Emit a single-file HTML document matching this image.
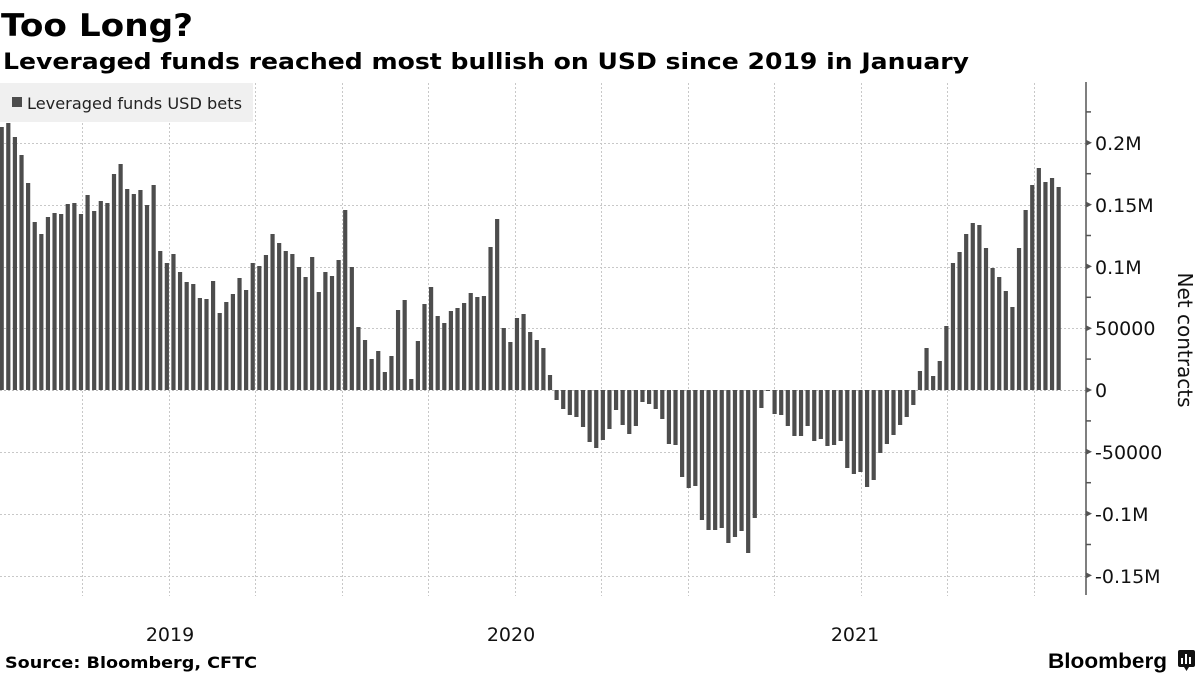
<!DOCTYPE html>
<html><head><meta charset="utf-8"><style>
html,body{margin:0;padding:0;background:#fff;}
svg{display:block;}
</style></head><body>
<svg id="s" width="1200" height="675" viewBox="0 0 1200 675" xmlns="http://www.w3.org/2000/svg" font-family="DejaVu Sans, Liberation Sans, sans-serif">
<rect width="1200" height="675" fill="#fff"/>
<text x="1" y="36" font-size="31" font-weight="bold" textLength="192" lengthAdjust="spacingAndGlyphs" fill="#000">Too Long?</text>
<text x="3" y="69" font-size="22" font-weight="bold" textLength="966" lengthAdjust="spacingAndGlyphs" fill="#000">Leveraged funds reached most bullish on USD since 2019 in January</text>
<g id="grid" stroke="#c8c8c8" stroke-width="1" stroke-dasharray="2,2"></g>
<rect x="0" y="83" width="253" height="39" fill="#f0f0f0"/>
<rect x="12" y="97" width="10" height="10" fill="#4d4d4d"/>
<text x="27" y="109" font-size="16" textLength="215" lengthAdjust="spacingAndGlyphs" fill="#222">Leveraged funds USD bets</text>
<g id="bars" fill="#4d4d4d"></g>
<g id="axis" stroke="#555" stroke-width="1.5"></g>
<g id="labels" font-size="19" fill="#111"></g>
<text transform="translate(1178,340) rotate(90)" font-size="20" text-anchor="middle" fill="#111">Net contracts</text>
<text x="170" y="641" font-size="19" text-anchor="middle" fill="#111">2019</text>
<text x="511" y="641" font-size="19" text-anchor="middle" fill="#111">2020</text>
<text x="855" y="641" font-size="19" text-anchor="middle" fill="#111">2021</text>
<text x="5" y="668" font-size="16" font-weight="bold" textLength="252" lengthAdjust="spacingAndGlyphs" fill="#000">Source: Bloomberg, CFTC</text>
<text x="1048" y="668" font-size="21" font-weight="bold" textLength="119" lengthAdjust="spacingAndGlyphs" fill="#000" font-family="Liberation Sans, sans-serif">Bloomberg</text>
<rect x="1178" y="650" width="17" height="17" rx="2" fill="#111"/>
<polygon points="1184,667 1189,667 1186.5,671" fill="#111"/>
<rect x="1181" y="658" width="2" height="6" fill="#fff"/>
<rect x="1185" y="654" width="2" height="10" fill="#fff"/>
<rect x="1189" y="657" width="2" height="7" fill="#fff"/>
</svg>
<script>
var NS="http://www.w3.org/2000/svg";
function el(p,t,a){var e=document.createElementNS(NS,t);for(var k in a)e.setAttribute(k,a[k]);p.appendChild(e);return e;}
var ys=[127,123,137,155,183,222,234,217,213,214,204,203,214,195,211,201,203,174,164,189,194,190,205,185,251,263,254,272,282,284,298,299,281,313,302,294,278,290,263,266,255,
234,243,251,254,267,277,257,292,272,276,260,210,267,327,340,359,351,372,356,310,300,379,341,304,287,316,323,311,308,303,293,297,296,247,219,328,342,318,314,332,
340,348,375,
400,409,415,417,427,442,448,440,429,410,425,434,426,402,404,409,419,444,445,477,488,486,520,530,530,528,543,537,531,553,518,408,391,414,415,426,436,
436,426,441,439,446,445,441,468,474,472,487,480,453,444,435,425,417,405,
371,348,376,361,326,263,252,234,223,225,248,268,277,291,307,248,210,185,168,182,178,187];
var Z=390,bars=document.getElementById('bars');
for(var i=0;i<ys.length;i++){var cx=1.7+6.606*i,y=ys[i];var t=Math.min(y,Z),h=Math.max(Math.abs(y-Z),1);
el(bars,'rect',{x:(cx-2.1).toFixed(2),y:t,width:4.2,height:h});}
var g=document.getElementById('grid');
var yv=[143,205,267,328,452,514,576];
yv.forEach(function(y){el(g,'line',{x1:0,y1:y+.5,x2:1086,y2:y+.5});});
for(var k=0;k<12;k++){var x=Math.round(82+86.5*k)+.5;el(g,'line',{x1:x,y1:83,x2:x,y2:596});}
el(g,'line',{x1:0,y1:390.5,x2:1086,y2:390.5,'stroke':'#bbb'});
var ax=document.getElementById('axis');
el(ax,'line',{x1:1086,y1:82,x2:1086,y2:595});
for(var v=-6;v<=9;v++){var y=Z-v*30.9;if(y<82||y>595)continue;
 if(v%2==0){el(ax,'polygon',{points:(1086)+','+(y-3)+' '+(1092)+','+y+' '+1086+','+(y+3),fill:'#555',stroke:'none'});}
 else el(ax,'line',{x1:1086,y1:y,x2:1091,y2:y});}
var lab=document.getElementById('labels');
var L=[['0.2M',143],['0.15M',205],['0.1M',267],['50000',328],['0',390],['-50000',452],['-0.1M',514],['-0.15M',576]];
L.forEach(function(a){var t=el(lab,'text',{x:1095,y:a[1]+7});t.textContent=a[0];});
</script>
</body></html>
